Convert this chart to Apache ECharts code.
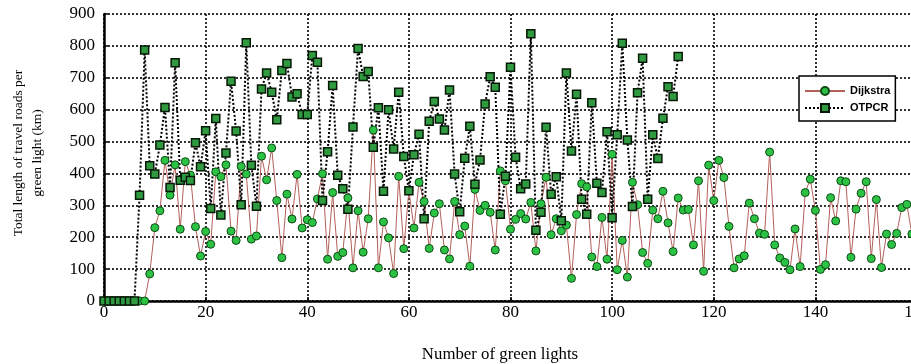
<!DOCTYPE html>
<html>
<head>
<meta charset="utf-8">
<script src="https://cdn.jsdelivr.net/npm/echarts@6/dist/echarts.min.js"></script>
<style>
html, body { margin: 0; padding: 0; background: #fff; }
#chart { width: 911px; height: 364px; }
</style>
</head>
<body>
<div id="chart"></div>
<script>
// values, one per green light (x = index)
var dijkstra = [
    0, 0, 0, 0, 0, 0, 0, 0, 0, 85,
    230, 283, 441, 332, 427, 225, 437, 395, 233, 141,
    218, 178, 405, 390, 427, 219, 190, 422, 398, 194,
    204, 454, 380, 480, 315, 136, 335, 257, 397, 229,
    255, 246, 320, 399, 131, 340, 140, 152, 323, 104,
    283, 153, 258, 536, 104, 248, 198, 86, 391, 164,
    346, 229, 372, 312, 165, 276, 305, 160, 132, 312,
    208, 235, 109, 350, 284, 300, 278, 160, 408, 377,
    225, 256, 274, 257, 309, 157, 305, 388, 208, 258,
    220, 238, 71, 271, 368, 358, 138, 108, 262, 131,
    460, 98, 190, 75, 372, 302, 152, 118, 285, 258,
    344, 245, 155, 323, 285, 287, 176, 377, 93, 426,
    315, 441, 387, 234, 104, 132, 142, 307, 258, 213,
    209, 467, 176, 135, 121, 98, 226, 108, 340, 382,
    284, 99, 114, 324, 251, 377, 374, 137, 288, 338,
    374, 133, 318, 105, 210, 177, 212, 293, 303, 210,
    230
];
var otpcr = [
    0, 0, 0, 0, 0, 0, 0, 332, 787, 424,
    398, 489, 607, 356, 747, 379, 388, 378, 496, 421,
    534, 290, 572, 270, 464, 689, 533, 302, 810, 426,
    297, 665, 715, 655, 568, 723, 745, 640, 650, 585,
    585, 770, 749, 315, 468, 676, 394, 352, 288, 546,
    792, 704, 720, 482, 606, 344, 600, 477, 655, 453,
    346, 459, 523, 258, 564, 626, 571, 536, 662, 398,
    280, 448, 548, 366, 442, 618, 703, 670, 272, 391,
    733, 451, 352, 367, 838, 222, 278, 545, 335, 390,
    252, 715, 470, 648, 319, 272, 622, 369, 340, 531,
    261, 521, 808, 505, 296, 653, 761, 319, 521, 447,
    573, 672, 641, 767
];
var seriesNames = ['Dijkstra', 'OTPCR'];
var xMax = 160, xStep = 20;
var yMax = 900, yStep = 100;

var toPairs = function (arr) {
    return arr.map(function (v, i) { return [i, v]; });
};

var chart = echarts.init(document.getElementById('chart'));
var serif = '"Liberation Serif", "Times New Roman", serif';
var dotted = { color: '#000', width: 1.6, type: [2, 2] };

var option = {
    animation: false,
    grid: { left: 104, right: -6, top: 14, bottom: 63, containLabel: false, outerBoundsMode: 'none' },
    xAxis: {
        type: 'value', min: 0, max: xMax, interval: xStep,
        axisLine: { lineStyle: { color: '#000', width: 2.5 } },
        axisTick: { inside: true, length: 4, lineStyle: { color: '#000', width: 1.5 } },
        axisLabel: { color: '#000', fontFamily: serif, fontSize: 17, margin: 3 },
        splitLine: { show: true, lineStyle: dotted }
    },
    yAxis: {
        type: 'value', min: 0, max: yMax, interval: yStep,
        axisLine: { show: true, lineStyle: { color: '#000', width: 2.5 } },
        axisTick: { show: true, inside: true, length: 4, lineStyle: { color: '#000', width: 1.5 } },
        axisLabel: { color: '#000', fontFamily: serif, fontSize: 17, margin: 9 },
        splitLine: { show: true, lineStyle: dotted }
    },
    legend: {
        data: seriesNames,
        orient: 'vertical',
        left: 799, top: 76,
        padding: [9, 5, 7, 5],
        itemWidth: 40, itemHeight: 10, itemGap: 5,
        backgroundColor: '#fff',
        borderColor: '#000', borderWidth: 1.5,
        textStyle: { color: '#000', fontFamily: '"Liberation Sans", Arial, sans-serif', fontSize: 11, fontWeight: 'bold', lineHeight: 12 }
    },
    graphic: [
        {
            type: 'text', x: 18, y: 153, rotation: Math.PI / 2,
            style: { text: 'Total length of travel roads per', fontFamily: serif, fontSize: 13.5, fill: '#000',
                textAlign: 'center', textVerticalAlign: 'middle', align: 'center', verticalAlign: 'middle' }
        },
        {
            type: 'text', x: 37, y: 153, rotation: Math.PI / 2,
            style: { text: 'green light (km)', fontFamily: serif, fontSize: 13.5, fill: '#000',
                textAlign: 'center', textVerticalAlign: 'middle', align: 'center', verticalAlign: 'middle' }
        },
        {
            type: 'text', x: 500, y: 355, scaleX: 1.05,
            style: { text: 'Number of green lights', fontFamily: serif, fontSize: 16, fill: '#000',
                textAlign: 'center', textVerticalAlign: 'middle', align: 'center', verticalAlign: 'middle' }
        }
    ],
    series: [
        {
            name: seriesNames[0],
            type: 'line',
            data: toPairs(dijkstra),
            symbol: 'circle',
            symbolSize: 8,
            lineStyle: { color: '#b3605a', width: 1 },
            itemStyle: { color: '#2cc244', borderColor: '#0d4a14', borderWidth: 1 }
        },
        {
            name: seriesNames[1],
            type: 'line',
            data: toPairs(otpcr),
            symbol: 'rect',
            symbolSize: 8,
            lineStyle: { color: '#000', width: 2, type: [2, 2] },
            itemStyle: { color: '#2f9a40', borderColor: '#061806', borderWidth: 1.5 }
        }
    ]
};

chart.setOption(option);
</script>
</body>
</html>
